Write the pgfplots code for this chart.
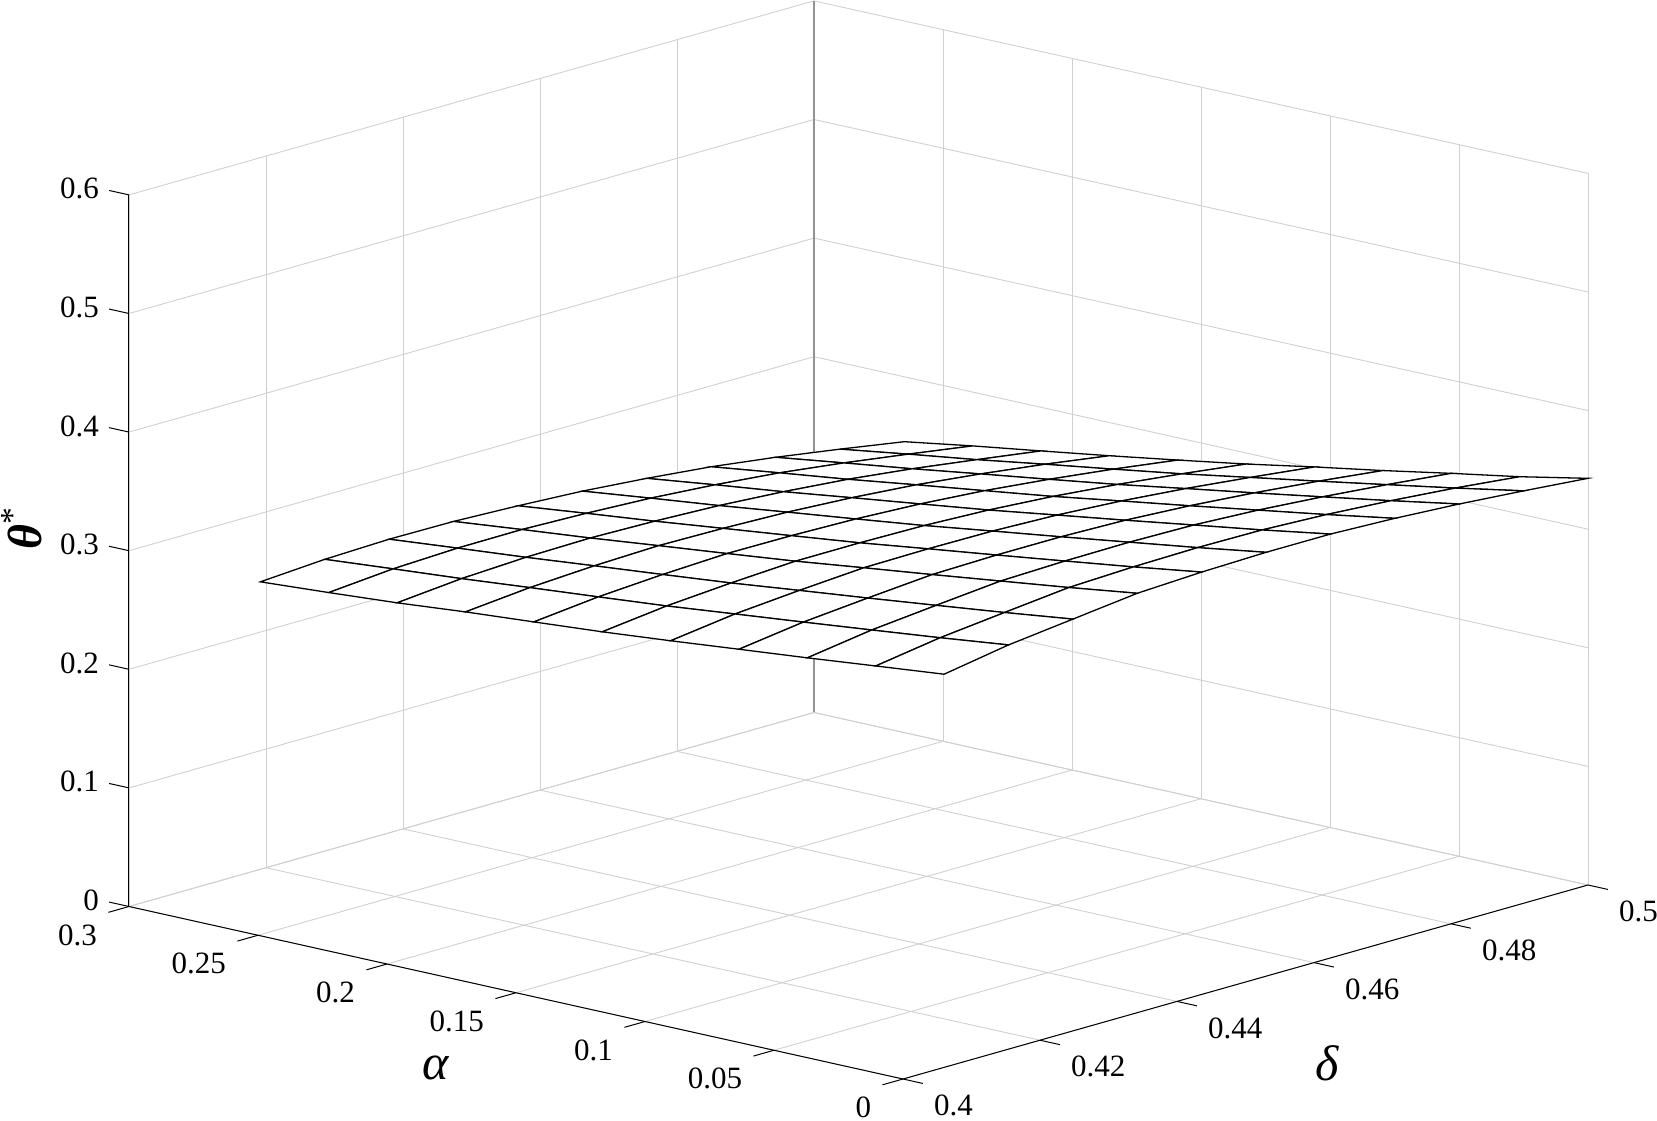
\documentclass[border=0pt]{standalone}
\usepackage{fontspec}
\setmainfont{Liberation Serif}
\usepackage{pgfplots}
\pgfplotsset{compat=1.18}
\definecolor{gridc}{RGB}{208,208,208}
\begin{document}
\begin{tikzpicture}
\path[use as bounding box] (0,0) rectangle (828.5pt,560pt);
\begin{axis}[
  at={(451.5pt,20.5pt)}, anchor=origin,
  x={(3425pt,970pt)}, y={(-1290pt,287.5pt)}, z={(0pt,593pt)},
  xmin=0.4, xmax=0.5, ymin=0, ymax=0.3, zmin=0, zmax=0.6,
  clip=false,
  grid=major,
  major grid style={gridc, line width=0.45pt},
  axis line style={draw=none},
  tick align=outside,
  major tick length=0pt,
  tick style={draw=none},
  /pgf/number format/assume math mode=true,
  tick label style={font=\fontsize{15.5pt}{17pt}\selectfont, inner sep=0pt, outer sep=0pt},
  xticklabel style={anchor=north west, xshift=15.5pt, yshift=-8pt},
  yticklabel style={anchor=north east, xshift=-16pt, yshift=-9pt},
  zticklabel style={anchor=east, xshift=-15pt, yshift=3pt},
  xtick={0.4,0.42,0.44,0.46,0.48,0.5},
  xticklabels={0.4,0.42,0.44,0.46,0.48,0.5},
  ytick={0,0.05,0.1,0.15,0.2,0.25,0.3},
  yticklabels={0,0.05,0.1,0.15,0.2,0.25,0.3},
  ztick={0,0.1,0.2,0.3,0.4,0.5,0.6},
  zticklabels={0,0.1,0.2,0.3,0.4,0.5,0.6},
  xlabel={\textit{δ}}, ylabel={\textit{α}}, zlabel={\textbf{\textit{θ}}\textsuperscript{*}},
  xlabel style={at={(axis cs:0.4319,-0.0797,0)}, anchor=center, font=\fontsize{25pt}{27pt}\selectfont},
  ylabel style={at={(axis cs:0.3731,0.1097,0)}, anchor=center, font=\fontsize{25pt}{27pt}\selectfont},
  zlabel style={at={(axis cs:0.4,0.3415,0.2988)}, anchor=center, font=\fontsize{24pt}{26pt}\selectfont},
  unbounded coords=jump,
]
\addplot3[gridc!70!black, line width=1pt, forget plot] coordinates {(0.5,0.3,0) (0.5,0.3,0.6)};
\addplot3[black, line width=0.5pt, forget plot] coordinates {(0.4,0,0) (0.5,0,0)};
\addplot3[black, line width=0.5pt, forget plot] coordinates {(0.4,0,0) (0.4,0.3,0)};
\addplot3[black, line width=0.5pt, forget plot] coordinates {(0.4,0.3,0) (0.4,0.3,0.6)};
% tick marks, MATLAB style
\addplot3[black, line width=0.5pt, forget plot] coordinates {
 (0.4,0,0) (0.4,-0.0077,0) (nan,nan,nan)
 (0.42,0,0) (0.42,-0.0077,0) (nan,nan,nan)
 (0.44,0,0) (0.44,-0.0077,0) (nan,nan,nan)
 (0.46,0,0) (0.46,-0.0077,0) (nan,nan,nan)
 (0.48,0,0) (0.48,-0.0077,0) (nan,nan,nan)
 (0.5,0,0) (0.5,-0.0077,0)};
\addplot3[black, line width=0.5pt, forget plot] coordinates {
 (0.4,0,0) (0.397,0,0) (nan,nan,nan)
 (0.4,0.05,0) (0.397,0.05,0) (nan,nan,nan)
 (0.4,0.1,0) (0.397,0.1,0) (nan,nan,nan)
 (0.4,0.15,0) (0.397,0.15,0) (nan,nan,nan)
 (0.4,0.2,0) (0.397,0.2,0) (nan,nan,nan)
 (0.4,0.25,0) (0.397,0.25,0) (nan,nan,nan)
 (0.4,0.3,0) (0.397,0.3,0)};
\addplot3[black, line width=0.5pt, forget plot] coordinates {
 (0.4,0.3,0) (0.4,0.3077,0) (nan,nan,nan)
 (0.4,0.3,0.1) (0.4,0.3077,0.1) (nan,nan,nan)
 (0.4,0.3,0.2) (0.4,0.3077,0.2) (nan,nan,nan)
 (0.4,0.3,0.3) (0.4,0.3077,0.3) (nan,nan,nan)
 (0.4,0.3,0.4) (0.4,0.3077,0.4) (nan,nan,nan)
 (0.4,0.3,0.5) (0.4,0.3077,0.5) (nan,nan,nan)
 (0.4,0.3,0.6) (0.4,0.3077,0.6)};
\addplot3[surf, shader=faceted, faceted color=black, line width=0.65pt,
  colormap={wh}{color(0cm)=(white) color(1cm)=(white)}, mesh/rows=11, mesh/cols=11]
 coordinates {
(.406,0,.3315) (.4154,0,.3408) (.4248,0,.3472) (.4342,0,.3536) (.4436,0,.3561) (.453,0,.3574) (.4624,0,.3574) (.4718,0,.3553) (.4812,0,.3520) (.4906,0,.3477) (.5,0,.3429)
(.406,.0265,.3256) (.4154,.0265,.3340) (.4248,.0265,.3399) (.4342,.0265,.3456) (.4436,.0265,.3476) (.453,.0265,.3485) (.4624,.0265,.3480) (.4718,.0265,.3456) (.4812,.0265,.3419) (.4906,.0265,.3372) (.5,.0265,.3314)
(.406,.053,.3196) (.4154,.053,.3277) (.4248,.053,.3331) (.4342,.053,.3382) (.4436,.053,.3397) (.453,.053,.3402) (.4624,.053,.3393) (.4718,.053,.3365) (.4812,.053,.3323) (.4906,.053,.3272) (.5,.053,.3214)
(.406,.0795,.3140) (.4154,.0795,.3215) (.4248,.0795,.3264) (.4342,.0795,.3308) (.4436,.0795,.3319) (.453,.0795,.3319) (.4624,.0795,.3305) (.4718,.0795,.3273) (.4812,.0795,.3228) (.4906,.0795,.3173) (.5,.0795,.3109)
(.406,.106,.3083) (.4154,.106,.3155) (.4248,.106,.3200) (.4342,.106,.3237) (.4436,.106,.3243) (.453,.106,.3239) (.4624,.106,.3220) (.4718,.106,.3185) (.4812,.106,.3136) (.4906,.106,.3076) (.5,.106,.3011)
(.406,.1325,.3030) (.4154,.1325,.3094) (.4248,.1325,.3134) (.4342,.1325,.3164) (.4436,.1325,.3165) (.453,.1325,.3157) (.4624,.1325,.3134) (.4718,.1325,.3095) (.4812,.1325,.3042) (.4906,.1325,.2978) (.5,.1325,.2907)
(.406,.159,.2985) (.4154,.159,.3042) (.4248,.159,.3077) (.4342,.159,.3100) (.4436,.159,.3097) (.453,.159,.3084) (.4624,.159,.3057) (.4718,.159,.3015) (.4812,.159,.2957) (.4906,.159,.2889) (.5,.159,.2812)
(.406,.1855,.2941) (.4154,.1855,.2992) (.4248,.1855,.3022) (.4342,.1855,.3038) (.4436,.1855,.3030) (.453,.1855,.3013) (.4624,.1855,.2981) (.4718,.1855,.2936) (.4812,.1855,.2874) (.4906,.1855,.2802) (.5,.1855,.2720)
(.406,.212,.2889) (.4154,.212,.2939) (.4248,.212,.2965) (.4342,.212,.2974) (.4436,.212,.2962) (.453,.212,.2940) (.4624,.212,.2903) (.4718,.212,.2854) (.4812,.212,.2789) (.4906,.212,.2712) (.5,.212,.2632)
(.406,.2385,.2847) (.4154,.2385,.2893) (.4248,.2385,.2914) (.4342,.2385,.2917) (.4436,.2385,.2900) (.453,.2385,.2874) (.4624,.2385,.2833) (.4718,.2385,.2780) (.4812,.2385,.2710) (.4906,.2385,.2630) (.5,.2385,.2546)
(.406,.265,.2809) (.4154,.265,.2845) (.4248,.265,.2861) (.4342,.265,.2857) (.4436,.265,.2835) (.453,.265,.2805) (.4624,.265,.2759) (.4718,.265,.2703) (.4812,.265,.2629) (.4906,.265,.2544) (.5,.265,.2453)
};
\end{axis}
\end{tikzpicture}
\end{document}
